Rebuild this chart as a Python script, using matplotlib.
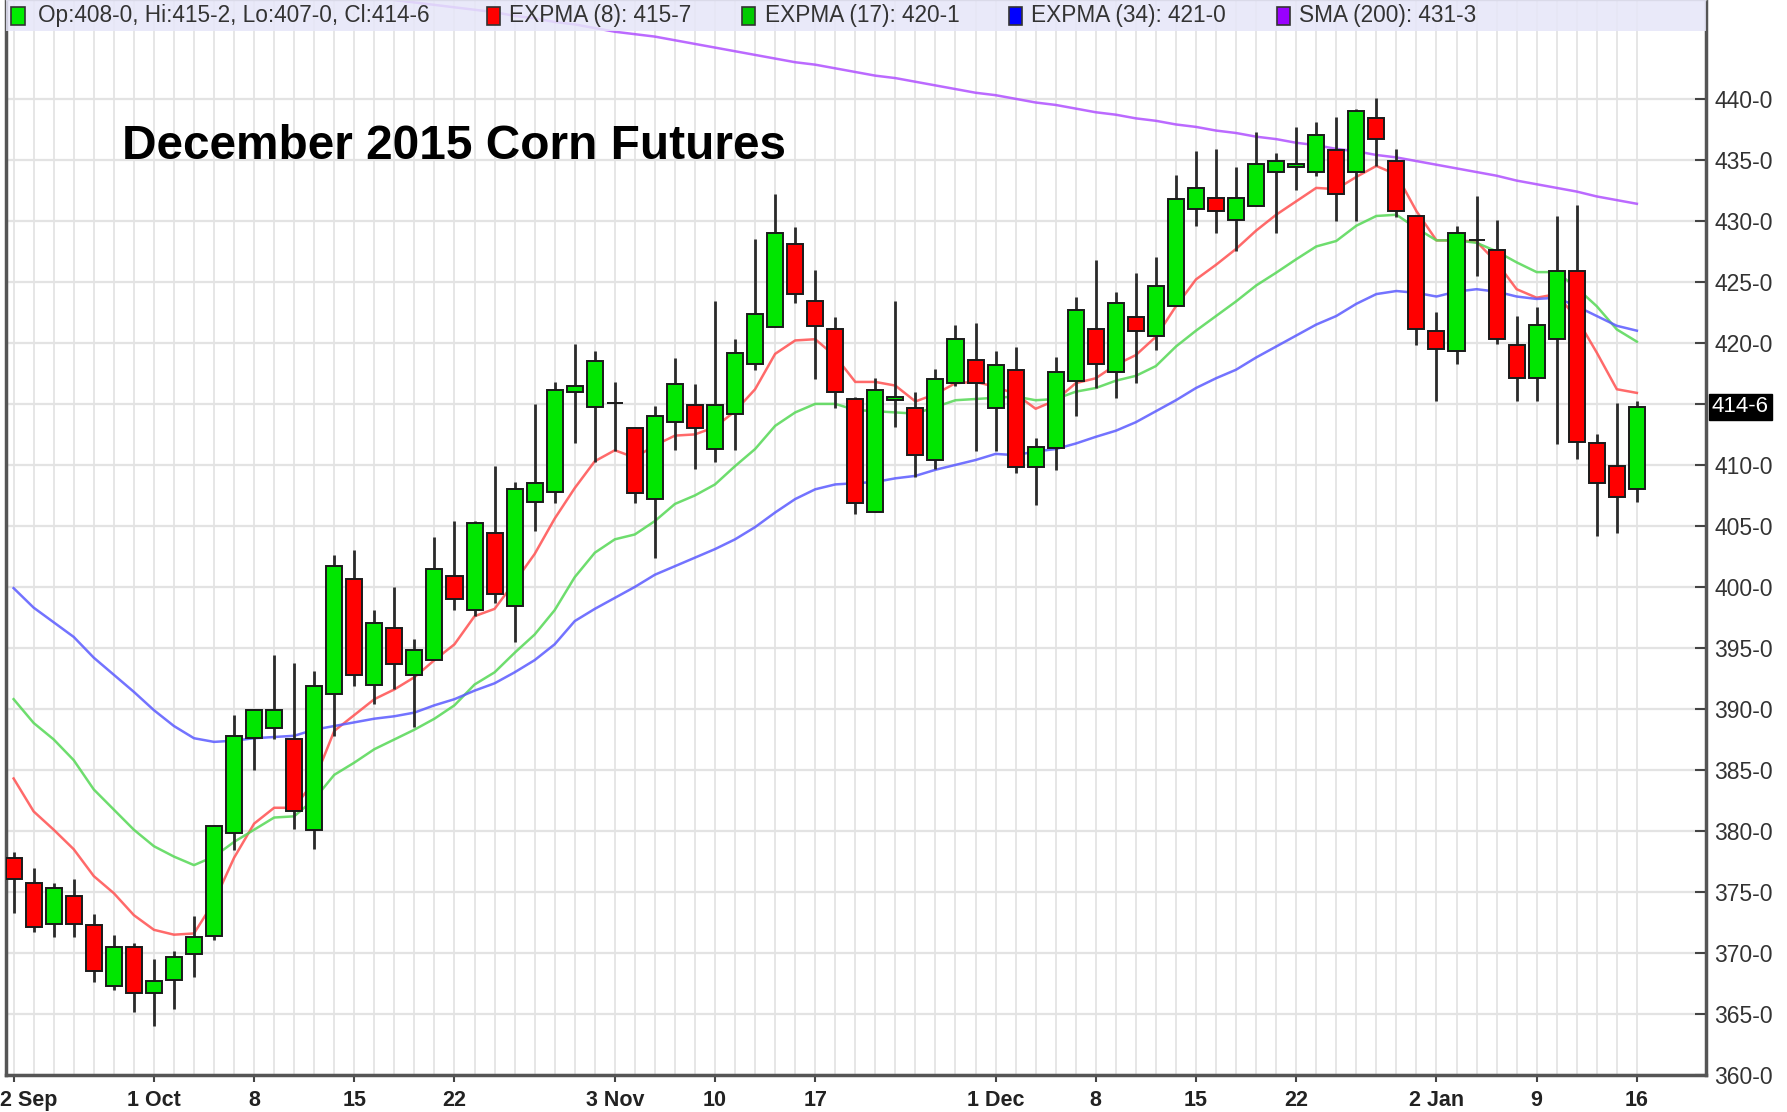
import numpy as np
import pandas as pd
import matplotlib
matplotlib.use("Agg")
import matplotlib.pyplot as plt
from matplotlib.patches import Rectangle
import matplotlib.transforms as mtransforms

# trading days from 22 Sep 2014 to 16 Jan 2015 (exchange holidays removed)
holidays = ["2014-11-27", "2014-12-25", "2015-01-01"]
days = pd.bdate_range("2014-09-22", "2015-01-16")
days = days[~days.isin(pd.to_datetime(holidays))]

opens = [377.8, 375.7, 372.4, 374.7, 372.3, 367.3, 370.5, 366.7, 367.8, 369.9,
         371.4, 379.8, 387.6, 388.4, 387.5, 380.1, 391.2, 400.65, 392.0, 396.6,
         392.8, 394.0, 400.9, 398.1, 404.4, 398.4, 407.0, 407.8, 416.0, 414.75,
         415.1, 413.0, 407.2, 413.5, 414.9, 411.3, 414.2, 418.3, 421.3, 428.1,
         423.4, 421.1, 415.4, 406.1, 415.35, 414.7, 410.4, 416.7, 418.6, 414.7,
         417.8, 409.8, 411.4, 416.9, 421.1, 417.6, 422.1, 420.6, 423.0, 431.0,
         431.9, 430.1, 431.2, 434.0, 434.4, 434.0, 435.8, 434.0, 438.4, 434.9,
         430.4, 421.0, 419.3, 428.4, 427.6, 419.8, 417.1, 420.3, 425.9, 411.8,
         409.9, 408.0]
highs = [378.3, 377.0, 375.7, 376.1, 373.2, 371.5, 370.8, 369.5, 370.2, 373.0,
         380.5, 389.5, 390.0, 394.4, 393.8, 393.1, 402.6, 403.0, 398.1, 400.0,
         395.7, 404.1, 405.4, 405.4, 409.9, 408.6, 415.0, 416.8, 419.9, 419.3,
         416.8, 413.1, 414.8, 418.8, 416.6, 423.4, 420.3, 428.5, 432.2, 429.5,
         426.0, 422.1, 415.6, 417.1, 423.4, 416.0, 417.9, 421.45, 421.6, 419.3,
         419.7, 412.2, 418.85, 423.8, 426.8, 424.2, 425.75, 427.0, 433.75, 435.75,
         435.9, 434.4, 437.3, 435.6, 437.7, 438.1, 438.5, 439.2, 440.05, 435.9,
         430.4, 422.5, 429.6, 432.0, 430.1, 422.2, 422.9, 430.4, 431.3, 412.5,
         415.1, 415.25]
lows = [373.3, 371.7, 371.3, 371.3, 367.6, 367.0, 365.2, 364.0, 365.4, 368.0,
        371.1, 378.4, 385.0, 387.5, 380.2, 378.5, 387.8, 391.9, 390.4, 391.6,
        388.5, 394.0, 398.1, 397.65, 398.7, 395.5, 404.6, 406.9, 411.8, 410.25,
        411.1, 406.9, 402.4, 411.2, 409.7, 410.25, 411.2, 417.8, 421.3, 423.3,
        417.0, 414.7, 406.0, 406.1, 413.1, 409.0, 409.7, 416.5, 411.1, 411.1,
        409.3, 406.7, 409.6, 414.0, 416.3, 415.5, 416.7, 419.45, 423.0, 429.6,
        429.0, 427.5, 431.2, 429.0, 432.5, 433.7, 430.0, 430.0, 434.5, 430.3,
        419.8, 415.25, 418.25, 425.5, 419.9, 415.25, 415.25, 411.7, 410.5, 404.2,
        404.45, 407.0]
closes = [376.1, 372.1, 375.3, 372.4, 368.5, 370.5, 366.7, 367.7, 369.7, 371.3,
          380.4, 387.8, 389.9, 389.9, 381.6, 391.9, 401.75, 392.8, 397.05, 393.7,
          394.8, 401.5, 399.0, 405.25, 399.4, 408.0, 408.5, 416.1, 416.5, 418.5,
          415.1, 407.7, 414.0, 416.6, 413.0, 414.9, 419.2, 422.35, 429.0, 424.0,
          421.4, 416.0, 406.9, 416.1, 415.6, 410.8, 417.0, 420.35, 416.7, 418.2,
          409.8, 411.5, 417.6, 422.7, 418.25, 423.3, 421.0, 424.7, 431.8, 432.7,
          430.8, 431.9, 434.7, 434.9, 434.7, 437.0, 432.2, 439.0, 436.7, 430.8,
          421.1, 419.5, 429.0, 428.4, 420.3, 417.1, 421.45, 425.9, 411.9, 408.55,
          407.4, 414.75]

# moving averages
expma8 = [384.3, 381.6, 380.1, 378.5, 376.3, 374.9, 373.1, 371.9, 371.5, 371.6,
          374.2, 377.8, 380.6, 381.9, 381.9, 384.1, 388.2, 389.5, 390.8, 391.6,
          392.6, 394.0, 395.3, 397.6, 398.2, 400.4, 402.7, 405.6, 408.1, 410.3,
          411.2, 410.6, 411.6, 412.4, 412.5, 413.1, 414.4, 416.2, 419.1, 420.2,
          420.3, 418.9, 416.8, 416.8, 416.5, 415.2, 415.8, 416.7, 416.8, 416.4,
          415.8, 414.6, 415.3, 416.7, 417.1, 418.2, 419.0, 420.5, 423.0, 425.2,
          426.4, 427.7, 429.2, 430.5, 431.6, 432.7, 432.6, 433.6, 434.5, 433.8,
          430.8, 428.4, 428.4, 428.3, 426.6, 424.4, 423.7, 424.0, 422.0, 419.2,
          416.2, 415.9]
expma17 = [390.8, 388.85, 387.5, 385.8, 383.4, 381.75, 380.1, 378.75, 377.9, 377.2,
           377.9, 379.1, 380.1, 381.1, 381.2, 382.6, 384.6, 385.6, 386.7, 387.5,
           388.3, 389.2, 390.3, 392.0, 393.0, 394.6, 396.1, 398.1, 400.8, 402.8,
           403.9, 404.3, 405.4, 406.8, 407.5, 408.4, 409.9, 411.3, 413.2, 414.3,
           415.0, 415.0, 414.5, 414.4, 414.3, 414.2, 414.75, 415.3, 415.4, 415.5,
           415.6, 415.3, 415.4, 416.0, 416.3, 416.9, 417.3, 418.1, 419.7, 421.0,
           422.2, 423.4, 424.7, 425.75, 426.85, 427.9, 428.35, 429.6, 430.4, 430.5,
           429.4, 428.4, 428.4, 428.2, 427.5, 426.6, 425.8, 425.8, 424.5, 423.0,
           421.1, 420.1]
expma34 = [399.9, 398.3, 397.1, 395.9, 394.2, 392.8, 391.4, 389.9, 388.6, 387.6,
           387.3, 387.4, 387.6, 387.7, 387.8, 388.3, 388.6, 388.9, 389.2, 389.4,
           389.7, 390.3, 390.8, 391.5, 392.1, 393.0, 394.0, 395.3, 397.2, 398.2,
           399.1, 400.0, 401.0, 401.7, 402.4, 403.1, 403.9, 404.9, 406.1, 407.2,
           408.0, 408.4, 408.5, 408.6, 408.9, 409.1, 409.6, 410.0, 410.4, 410.9,
           410.8, 411.1, 411.3, 411.75, 412.3, 412.8, 413.5, 414.4, 415.3, 416.3,
           417.1, 417.8, 418.8, 419.7, 420.6, 421.5, 422.2, 423.2, 424.0, 424.25,
           424.1, 423.8, 424.2, 424.4, 424.2, 423.8, 423.6, 423.7, 423.0, 422.2,
           421.4, 421.0]
sma200 = [452.6, 452.4, 452.2, 451.9, 451.7, 451.5, 451.3, 451.0, 450.8, 450.6,
          450.4, 450.2, 450.0, 449.7, 449.5, 449.2, 448.9, 448.6, 448.3, 448.1,
          447.9, 447.7, 447.5, 447.3, 447.1, 446.8, 446.6, 446.3, 446.1, 445.8,
          445.5, 445.3, 445.1, 444.8, 444.5, 444.2, 443.9, 443.6, 443.3, 443.0,
          442.8, 442.5, 442.2, 441.9, 441.7, 441.4, 441.1, 440.8, 440.5, 440.3,
          440.0, 439.7, 439.5, 439.2, 438.9, 438.7, 438.4, 438.2, 437.9, 437.7,
          437.4, 437.2, 436.9, 436.7, 436.4, 436.2, 435.9, 435.7, 435.4, 435.2,
          434.9, 434.6, 434.3, 434.0, 433.7, 433.3, 433.0, 432.7, 432.4, 432.0,
          431.7, 431.4]

tick_dates = ["2014-09-22", "2014-10-01", "2014-10-08", "2014-10-15", "2014-10-22",
              "2014-11-03", "2014-11-10", "2014-11-17", "2014-12-01", "2014-12-08",
              "2014-12-15", "2014-12-22", "2015-01-02", "2015-01-09", "2015-01-16"]
tick_labels = ["22 Sep", "1 Oct", "8", "15", "22", "3 Nov", "10", "17",
               "1 Dec", "8", "15", "22", "2 Jan", "9", "16"]
price_ticks = list(range(360, 445, 5))

legend_items = [("Op:408-0, Hi:415-2, Lo:407-0, Cl:414-6", "#00ee00"),
                ("EXPMA (8): 415-7", "#ff0000"),
                ("EXPMA (17): 420-1", "#00cc00"),
                ("EXPMA (34): 421-0", "#0000ff"),
                ("SMA (200): 431-3", "#9900ff")]
last_label = "414-6"

sans = ["Liberation Sans", "DejaVu Sans"]

fig = plt.figure(figsize=(17.87, 11.12), dpi=100)
ax = fig.add_axes([6 / 1787, 37 / 1112, 1700 / 1787, 1075 / 1112])

x = np.arange(len(days))
o = np.array(opens); h = np.array(highs); l = np.array(lows); c = np.array(closes)

colors = np.where(c > o, "#00e600", np.where(c < o, "#ff0000", "black"))

# wicks and bodies
ax.vlines(x, l, h, color="#2a2a2a", lw=2.0, zorder=3)
ax.bar(x, np.abs(c - o), bottom=np.minimum(o, c), width=0.8,
       color=colors, edgecolor="#1a1a1a", linewidth=1.4, zorder=4)

# moving averages
ax.plot(x, expma8, color="#ff5050", lw=1.8, alpha=0.85, zorder=2)
ax.plot(x, expma17, color="#55d855", lw=1.8, alpha=0.85, zorder=2)
ax.plot(x, expma34, color="#5a5aff", lw=1.8, alpha=0.85, zorder=2)
ax.plot(x, sma200, color="#b050ff", lw=1.8, alpha=0.85, zorder=2)

ax.set_xlim(-0.38, 84.45)
ax.set_ylim(360, 448.1)

# grid: one vertical line per session, horizontal at every price tick
for xi in x:
    ax.axvline(xi, color="#e6e6e6", lw=1.4, zorder=0)
for p in price_ticks:
    ax.axhline(p, color="#e3e3e3", lw=1.6, zorder=0)

tick_pos = [days.get_loc(pd.Timestamp(d)) for d in tick_dates]
ax.set_xticks(tick_pos)
ax.set_xticklabels(tick_labels, family=sans, fontsize=15.5, fontweight="bold", color="#222222")
ax.tick_params(axis="x", direction="out", length=5, width=1.5, color="#444444", pad=6)
first = ax.get_xticklabels()[0]
first.set_transform(first.get_transform() + mtransforms.ScaledTranslation(0.09, 0, fig.dpi_scale_trans))

# price labels; the one under the last-price marker is hidden by it
last_price = closes[-1]
ylabels = ["" if abs(p - last_price) < 2 else f"{p}-0" for p in price_ticks]
ax.yaxis.tick_right()
ax.set_yticks(price_ticks)
ax.set_yticklabels(ylabels, family=sans, fontsize=16.5, color="#333333")
ax.tick_params(axis="y", direction="in", length=8, width=1.5, color="#444444", pad=6)

for side in ["left", "bottom", "right"]:
    ax.spines[side].set_color("#555555")
    ax.spines[side].set_linewidth(2.5)
ax.spines["top"].set_color("#999999")
ax.spines["top"].set_linewidth(1)

# legend strip at the top of the panel
band_h = 31 / 1075
ax.add_patch(Rectangle((0, 1 - band_h), 1, band_h, transform=ax.transAxes,
                       facecolor="#e6e6f8", alpha=0.85, edgecolor="none", zorder=6))
legend_x = [0.0032, 0.2827, 0.4329, 0.5898, 0.7474]
text_off = [0.0154, 0.0134, 0.0134, 0.0134, 0.0134]
for (txt, col), lx, dx in zip(legend_items, legend_x, text_off):
    ax.add_patch(Rectangle((lx, 1 - band_h * 0.80), 0.0078, band_h * 0.56,
                           transform=ax.transAxes, facecolor=col,
                           edgecolor="#333333", lw=1.2, zorder=7))
    ax.text(lx + dx, 1 - band_h * 0.5, txt, transform=ax.transAxes,
            family=sans, fontsize=16.3, color="#333333", va="center", ha="left", zorder=8)

# last price marker on the price axis
trans = mtransforms.blended_transform_factory(ax.transAxes, ax.transData)
ax.text(1.0035, last_price, last_label, transform=trans, family=sans, fontsize=16,
        color="white", va="center", ha="left", zorder=10, clip_on=False,
        bbox=dict(boxstyle="square,pad=0.12", facecolor="black", edgecolor="black"))

ax.text(0.068, 0.864, "December 2015 Corn Futures", transform=ax.transAxes,
        family=sans, fontsize=34.4, fontweight="bold",
        color="black", va="center", ha="left", zorder=9)

fig.savefig("out.png", dpi=100, facecolor="white")
